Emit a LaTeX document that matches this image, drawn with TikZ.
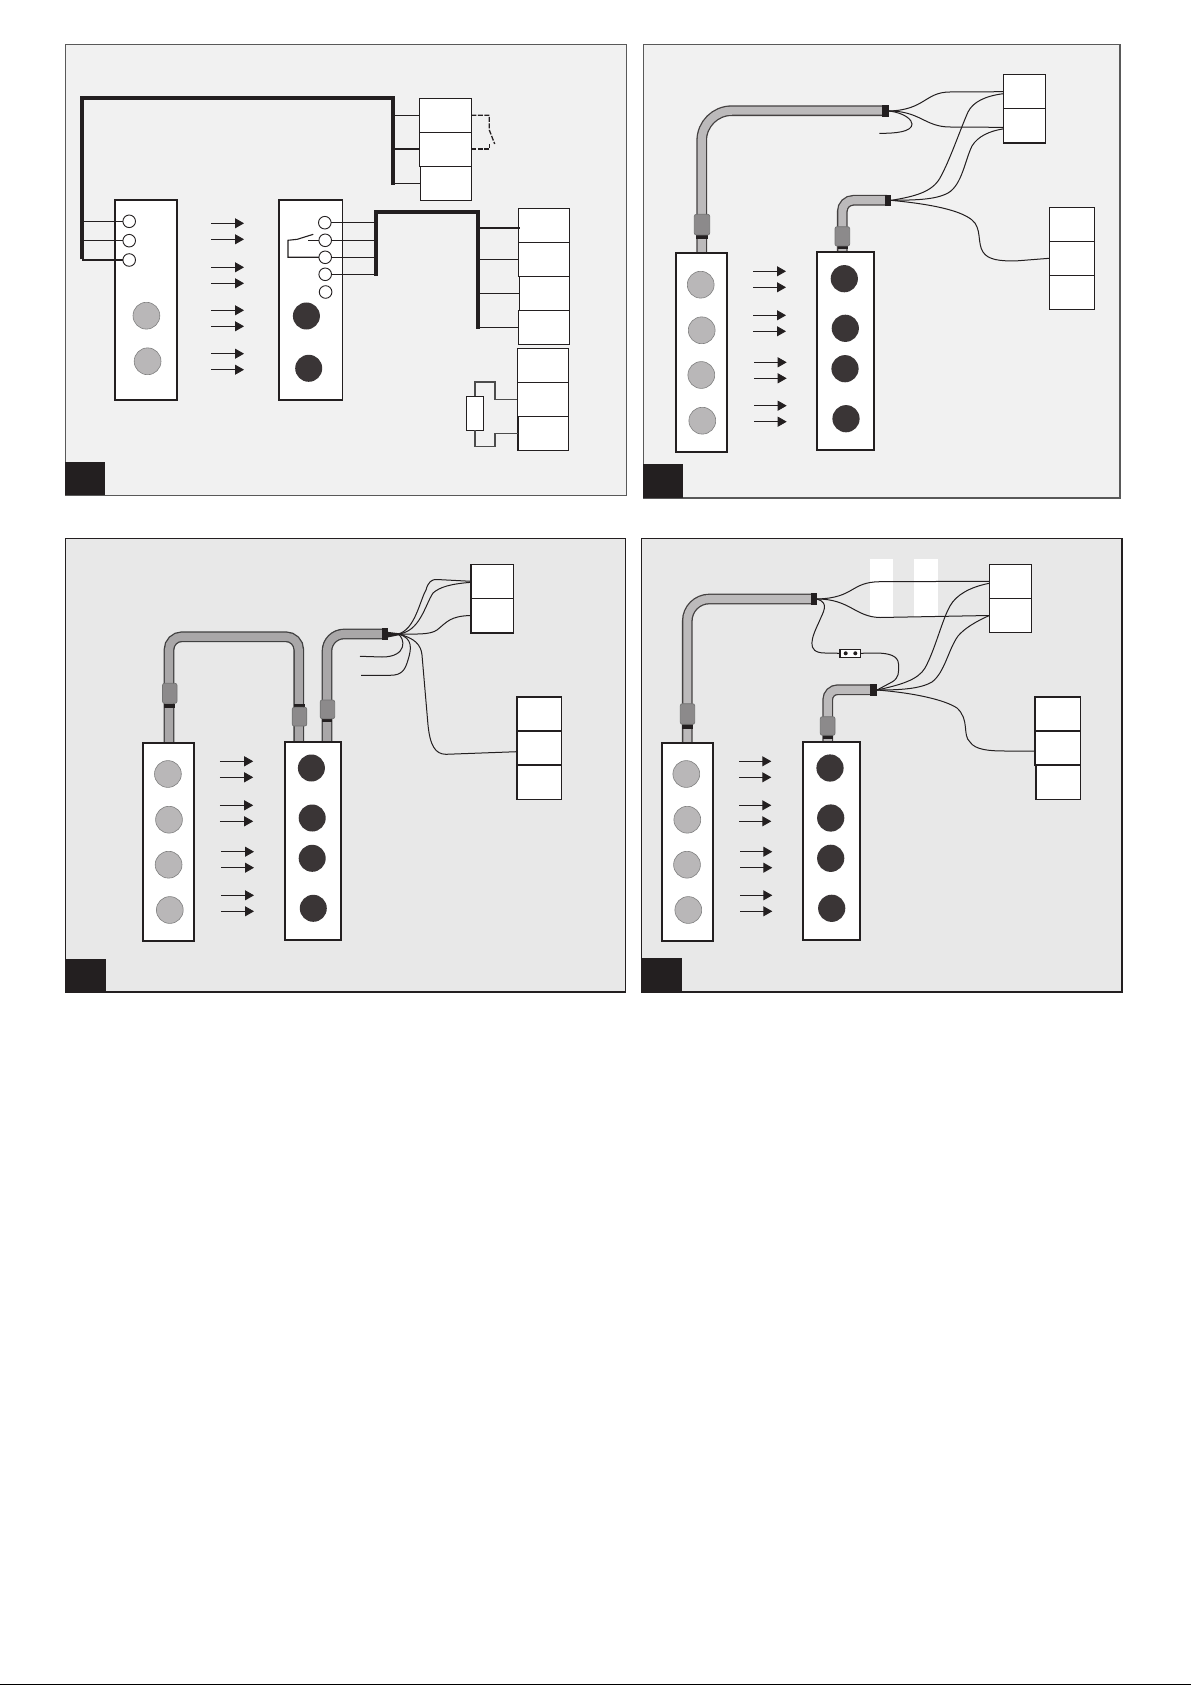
\documentclass[tikz,border=0pt]{standalone}
\usetikzlibrary{arrows.meta}
\definecolor{ink}{HTML}{231F20}
\definecolor{panelA}{HTML}{F1F1F1}
\definecolor{panelB}{HTML}{E8E8E8}
\definecolor{lamp}{HTML}{B9B7B8}
\definecolor{dlamp}{HTML}{3A3536}
\definecolor{cablefill}{HTML}{BCBABB}
\definecolor{cablefillb}{HTML}{A9A7A8}
\definecolor{collar}{HTML}{8C8A8B}
\tikzset{
  panelbox/.style={draw=black!65,line width=1.1pt,fill=panelA,rectangle,inner sep=0pt,outer sep=0pt},
  panelboxb/.style={draw=ink,line width=1.2pt,fill=panelB,rectangle,inner sep=0pt,outer sep=0pt},
  tag/.style={fill=ink,rectangle,inner sep=0pt,outer sep=0pt},
  cellthin/.style={draw=ink,line width=1.1pt,fill=white,rectangle,inner sep=0pt,outer sep=0pt},
  cellthick/.style={draw=ink,line width=1.6pt,fill=white,rectangle,inner sep=0pt,outer sep=0pt},
  devbox/.style={draw=ink,line width=1.8pt,fill=white,rectangle,inner sep=0pt,outer sep=0pt},
  smallc/.style={circle,draw=ink,line width=0.9pt,fill=white,inner sep=0pt,outer sep=0pt},
  grayc/.style={circle,draw=black!50,line width=0.6pt,fill=lamp,inner sep=0pt,outer sep=0pt},
  darkc/.style={circle,fill=dlamp,inner sep=0pt,outer sep=0pt},
  whitebar/.style={fill=white,rectangle,inner sep=0pt,outer sep=0pt},
  collarbox/.style={draw=black!55,line width=0.7pt,fill=collar,rounded corners=2pt,rectangle,inner sep=0pt,outer sep=0pt},
  arr/.style={draw=ink,line width=0.9pt,-{Triangle[length=9pt,width=10pt,fill=ink]}},
  bus/.style={draw=ink,line width=3.8pt,line join=miter},
  stub/.style={draw=ink,line width=1.1pt},
  wire/.style={draw=ink,line width=1pt},
  cable/.style={draw=ink!85,line width=1.3pt,double=cablefill,double distance=8.1pt},
  cableb/.style={draw=black!75,line width=1.3pt,double=cablefillb,double distance=8.1pt},
}
\newcommand{\cell}[6][cellthin]{\node[#1,minimum width={#5-#3},minimum height={#6-#4}] (#2) at ({(#3+#5)/2},{(#4+#6)/2}) {};}
\newcommand{\disc}[5]{\node[#1,minimum size={2*#5}] (#2) at (#3,#4) {};}
\newcommand{\arow}[3]{\draw[arr] (#1,#3) -- (#2,#3);}
\begin{document}
\begin{tikzpicture}[x=1pt,y=-1pt]
\useasboundingbox (0,0) rectangle (1191,1685);
\fill[black] (0,1684) rectangle (1191,1685);

%% ---------- Panel 1 ----------
\cell[panelbox]{aP}{65.3}{44.7}{626.7}{495.3}
\cell[tag]{aT}{65.3}{462.3}{104.7}{495.3}
\coordinate (aBus) at (82.1,98.3);
\coordinate (aBusR) at (392.9,98.3);
\coordinate (bBus) at (375.7,211.7);
\coordinate (bBusR) at (477.9,211.7);
% terminal block A
\cell{aA1}{419.7}{98.3}{471.3}{132.3}
\cell{aA2}{419.7}{132.3}{471.3}{166.3}
\cell{aA3}{420.3}{166.3}{471.3}{200.3}
\draw[bus] (82.1,259.3) -- (aBus) -- (aBusR) -- (392.9,184.7);
\draw[stub] (aBusR |- aA1.west) -- (aA1.west);
\draw[stub,line width=2pt] (aBusR |- aA2.west) -- (aA2.west);
\draw[stub] (aBusR |- aA3.west) -- (aA3.west);
% dashed contact
\coordinate (aSw) at (489.3,130);
\coordinate (aSwB) at (489.3,144);
\draw[draw=ink,line width=1.3pt,dashed,dash pattern=on 5pt off 1.5pt] (aA1.east) -| (aSw) -- (494.7,144);
\draw[draw=ink,line width=1.6pt,dashed,dash pattern=on 5pt off 1.5pt] (aA2.east) -| (aSwB);
% left device
\cell[devbox]{aL}{114.7}{200}{177}{400}
\disc{smallc}{aL1}{129.2}{221.3}{6.3}
\disc{smallc}{aL2}{129.2}{240.7}{6.3}
\disc{smallc}{aL3}{129.2}{260}{6.3}
\disc{grayc}{aL4}{146.4}{315.7}{13.4}
\disc{grayc}{aL5}{147.6}{361.3}{13.4}
\draw[stub] (aBus |- aL1.west) -- (aL1.west);
\draw[stub] (aBus |- aL2.west) -- (aL2.west);
\draw[stub] (aBus |- aL3.west) -- (aL3.west);
% arrows
\arow{211.1}{244}{223.3}\arow{211.1}{244}{239.3}
\arow{211.1}{244}{267.3}\arow{211.1}{244}{283.3}
\arow{211.1}{244}{310.3}\arow{211.1}{244}{326.3}
\arow{211.1}{244}{353.7}\arow{211.1}{244}{369.7}
% right device
\cell[devbox]{aR}{278.9}{200}{342.4}{400}
\disc{smallc}{aR1}{324.8}{222.7}{6.3}
\disc{smallc}{aR2}{325.2}{240.3}{6.3}
\disc{smallc}{aR3}{325.2}{257.3}{6.3}
\disc{smallc}{aR4}{325.2}{274.3}{6.3}
\disc{smallc}{aR5}{325.6}{292}{6.3}
\disc{darkc}{aR6}{306.4}{316}{13.5}
\disc{darkc}{aR7}{308.7}{368.3}{13.5}
\draw[stub] (aR1.east) -- (aR1.east -| bBus);
\draw[stub] (aR2.east) -- (aR2.east -| bBus);
\draw[stub] (aR3.east) -- (aR3.east -| bBus);
\draw[stub] (aR4.east) -- (aR4.east -| bBus);
\draw[bus] (375.7,276) -- (bBus) -- (bBusR) -- (477.9,329.3);
% relay contact
\coordinate (aRelayA) at (313.3,234.3);
\coordinate (aRelayB) at (288,240.3);
\draw[stub] (aRelayA) -- (297.3,239.3) -- (aRelayB) |- (aR3.west);
\draw[stub] (308.3,240.3) -- (aR2.west);
% block C
\cell{aC1}{518.4}{208.3}{569.7}{242.3}
\cell{aC2}{518.4}{242.3}{569.7}{276.3}
\cell{aC3}{519.6}{276.3}{569.7}{310.3}
\cell{aC4}{518.4}{310.3}{569.7}{344.3}
\draw[stub] (bBusR |- 0,228) -- ([yshift=-2.7pt,xshift=2pt]aC1.west);
\draw[stub] (bBusR |- aC2.west) -- ([xshift=1pt]aC2.west);
\draw[stub] (bBusR |- aC3.west) -- (aC3.west);
\draw[stub] (bBusR |- aC4.west) -- ([xshift=1pt]aC4.west);
% block D with resistor
\cell{aD1}{517.3}{348.3}{568.6}{382.3}
\cell{aD2}{517.3}{382.3}{568.6}{416.3}
\cell{aD3}{518}{416.3}{568.6}{450.3}
\cell{aRes}{466.4}{396.3}{483.6}{430.3}
\draw[draw=black!70,line width=1.3pt] (aRes.north) |- (495,382) |- (aD2.west);
\draw[draw=black!70,line width=1.3pt] (aRes.south) |- (495,446.7) |- (aD3.west);

%% ---------- Panel 2 ----------
\cell[panelbox]{bP}{643.3}{44.7}{1120}{498}
\cell[tag]{bT}{643.3}{464}{682.7}{498}
\draw[cable,rounded corners=30pt] (701.7,254) -- (701.7,110.7) -- (884,110.7);
\draw[cable,rounded corners=11pt] (842.3,252) -- (842.3,200.3) -- (887,200.3);
\cell[tag]{bE1}{882}{105}{889}{117}
\cell[tag]{bE2}{885}{195}{891}{205.7}
\cell[tag]{bB1}{696}{235}{708}{239}
\cell[tag]{bB2}{837.5}{246}{847.5}{249}
\cell[collarbox]{bC1}{694.3}{214.3}{709.7}{235}
\cell[collarbox]{bC2}{835}{226.7}{849.7}{246}
\cell[devbox]{bL}{675.7}{252.7}{727.3}{452}
\cell[devbox]{bR}{816.7}{251.7}{874.3}{450}
\disc{grayc}{bL1}{700.7}{284.7}{13.4}
\disc{grayc}{bL2}{701.7}{330.3}{13.4}
\disc{grayc}{bL3}{701.3}{375}{13.4}
\disc{grayc}{bL4}{702.3}{420.7}{13.4}
\disc{darkc}{bR1}{844.3}{278.7}{13.6}
\disc{darkc}{bR2}{845.3}{328.3}{13.6}
\disc{darkc}{bR3}{845}{368.7}{13.6}
\disc{darkc}{bR4}{846}{418.7}{13.6}
\arow{753}{786}{271.3}\arow{753}{786}{287.3}
\arow{753}{786}{315.3}\arow{753}{786}{331.3}
\arow{754}{786.7}{362.3}\arow{754}{786.7}{378.3}
\arow{754}{786.7}{405.7}\arow{754}{786.7}{421.7}
\cell[cellthick]{bA1}{1003.3}{74.7}{1045.3}{108.7}
\cell[cellthick]{bA2}{1003.3}{108.7}{1045.3}{143}
\cell{bD1}{1049.3}{207.3}{1094.3}{241.3}
\cell{bD2}{1049.3}{241.3}{1094.3}{275.3}
\cell{bD3}{1049.3}{275.3}{1094.3}{309.3}
\coordinate (bFree) at (879.3,133.3);
\draw[wire] (bE1.east) .. controls (925,110) and (925,92) .. (950,92) -- (bA1.west);
\draw[wire] (bE1.east) .. controls (920,111) and (925,127) .. (950,127) -- ([yshift=-1.5pt]bA2.west);
\draw[wire] (bE1.east) .. controls (905,113) and (912,120) .. (912,124) .. controls (912,132) and (895,133.5) .. (bFree);
\draw[wire] (bE2.east) .. controls (915,196.5) and (932,192) .. (940,178) .. controls (950,160) and (960,130) .. (968,112) .. controls (973,102) and (985,96) .. ([yshift=-2pt]bA1.west);
\draw[wire] (bE2.east) .. controls (915,200) and (935,200) .. (948,193) .. controls (962,185) and (965,160) .. (972,146) .. controls (978,136) and (990,131) .. ([yshift=-3pt]bA2.west);
\draw[wire] (bE2.east) .. controls (930,204) and (960,210) .. (972,220) .. controls (982,228) and (977,243) .. (983,252) .. controls (988,260) and (1000,261) .. (1015,261) -- (bD2.west);

%% ---------- Panel 3 ----------
\cell[panelboxb]{cP}{65.3}{538.7}{625.6}{992}
\cell[tag]{cT}{65.3}{959}{105.9}{992}
\draw[cableb,rounded corners=13pt] (169,743) -- (169,636.7) -- (298.8,636.7) -- (298.8,743);
\draw[cableb,rounded corners=17pt] (327,743) -- (327,634) -- (383,634);
\cell[tag]{cE}{382.2}{628.3}{388}{639.7}
\cell[tag]{cB1}{164}{704}{175}{707.7}
\cell[tag]{cB2}{294}{704}{305}{707}
\cell[tag]{cB3}{322}{718.7}{332}{722}
\cell[collarbox]{cC1}{162.5}{683.3}{177}{703.3}
\cell[collarbox]{cC2}{292.2}{707.3}{306.8}{726}
\cell[collarbox]{cC3}{320.2}{700}{334.7}{718.7}
\cell[devbox]{cL}{143}{742.7}{194.3}{941.3}
\cell[devbox]{cR}{285}{741.7}{341.2}{940.3}
\disc{grayc}{cL1}{167.9}{774}{13.4}
\disc{grayc}{cL2}{169}{819.7}{13.4}
\disc{grayc}{cL3}{168.6}{864.7}{13.4}
\disc{grayc}{cL4}{169.8}{910}{13.4}
\disc{darkc}{cR1}{311.4}{768}{13.5}
\disc{darkc}{cR2}{312.2}{818}{13.5}
\disc{darkc}{cR3}{312.2}{858.3}{13.5}
\disc{darkc}{cR4}{313.3}{908.3}{13.5}
\arow{219.9}{253.2}{761.3}\arow{219.9}{253.2}{777.3}
\arow{219.9}{253.2}{805.3}\arow{219.9}{253.2}{821.3}
\arow{221}{254}{851.7}\arow{221}{254}{867.7}
\arow{221}{254}{895.3}\arow{221}{254}{911.3}
\cell[cellthick]{cA1}{471}{564.3}{513.4}{598.3}
\cell[cellthick]{cA2}{471}{598.3}{513.4}{632.7}
\cell[cellthick]{cD1}{516.9}{696.7}{561.3}{730.7}
\cell[cellthick]{cD2}{516.9}{730.7}{561.3}{764.7}
\cell[cellthick]{cD3}{516.9}{764.7}{561.3}{799.3}
\coordinate (cFan) at (398,634);
\coordinate (cFree1) at (360,656.3);
\coordinate (cFree2) at (361,675.3);
\fill[ink] (cE.north east) ++(0,3.6) -- (405,634) -- (388,637.4) -- cycle;
\draw[wire] (cFan) .. controls (415,630) and (420,600) .. (426,590) .. controls (428,582) and (432,579) .. (437,579.5) -- (cA1.west);
\draw[wire] (cFan) .. controls (420,632) and (425,605) .. (433,593) .. controls (440,587) and (450,584) .. ([yshift=-1pt]cA1.west);
\draw[wire] (cFan) .. controls (415,634) and (430,635) .. (437,630) .. controls (447,622) and (450,616) .. (cA2.west);
\draw[wire] (cFan) .. controls (405,638) and (408,657) .. (382,657) -- (cFree1);
\draw[wire] (cFan) .. controls (414,638) and (411,650) .. (408,660) .. controls (405,670) and (402,675.3) .. (390,675.3) -- (cFree2);
\draw[wire] (cFan) .. controls (415,638) and (421,645) .. (422,655) -- (428,725) .. controls (430,745) and (435,754.3) .. (446,754.3) -- ([yshift=-4pt]cD2.west);

%% ---------- Panel 4 ----------
\cell[panelboxb]{dP}{641.7}{538.7}{1122.3}{992}
\draw[draw=ink,line width=1.8pt] (dP.north east) -- (dP.south east);
\cell[tag]{dT}{641.7}{958.3}{682}{992}
\cell[whitebar]{dW1}{870}{559}{893}{616.7}
\cell[whitebar]{dW2}{914}{559}{938}{616.7}
\draw[cable,rounded corners=22pt] (687.3,744) -- (687.3,599) -- (812,599);
\draw[cable,rounded corners=10pt] (827.7,743) -- (827.7,689.7) -- (872,689.7);
\cell[tag]{dE1}{811}{593}{817}{605}
\cell[tag]{dE2}{870}{684}{877}{696}
\cell[tag]{dB1}{682}{724.3}{693}{728.7}
\cell[tag]{dB2}{822.7}{735.3}{833}{739}
\cell[collarbox]{dC1}{680.3}{703.7}{694.7}{724.3}
\cell[collarbox]{dC2}{820.3}{716.7}{835}{735.3}
\cell[devbox]{dL}{661.7}{742.7}{713.3}{941.3}
\cell[devbox]{dR}{802.7}{741.7}{860.3}{940.3}
\disc{grayc}{dL1}{686.3}{774}{13.4}
\disc{grayc}{dL2}{687.3}{819.7}{13.4}
\disc{grayc}{dL3}{687}{864.7}{13.4}
\disc{grayc}{dL4}{688.3}{910}{13.4}
\disc{darkc}{dR1}{830}{768}{13.6}
\disc{darkc}{dR2}{830.7}{818}{13.6}
\disc{darkc}{dR3}{830.7}{858.3}{13.6}
\disc{darkc}{dR4}{831.7}{908.3}{13.6}
\arow{739}{771.3}{761.3}\arow{739}{771.3}{777.3}
\arow{739}{771.3}{805.3}\arow{739}{771.3}{821.3}
\arow{740}{772.3}{851.7}\arow{740}{772.3}{867.7}
\arow{740}{772.3}{895.3}\arow{740}{772.3}{911.3}
\cell{dA1}{989.3}{564.3}{1031.3}{598.3}
\cell{dA2}{989.3}{598.3}{1031.3}{632.7}
\cell[cellthick]{dD3}{1035.7}{765}{1080.3}{799.3}
\cell[cellthick]{dD1}{1034.7}{696.7}{1080.3}{731}
\cell[cellthick]{dD2}{1034.7}{731}{1080.3}{765}
\cell{dFuse}{840}{649.3}{860.7}{657.3}
\fill[ink] (845.7,653.3) circle (2pt) (855.3,653.3) circle (2pt);
\draw[wire] (dE1.east) .. controls (855,598) and (850,582) .. (880,581.7) -- (dA1.west);
\draw[wire] (dE1.east) .. controls (850,599) and (855,617) .. (880,617.5) -- (dA2.west);
\draw[wire] (dE1.east) .. controls (830,603) and (823,612) .. (819,622) .. controls (812,637) and (805,653) .. (825,653) -- (dFuse.west);
\draw[wire] (dFuse.east) -- (875,653) .. controls (890,653) and (898,656) .. (898.5,664) .. controls (899,672) and (899,678) .. (892,682) -- (dE2.east);
\draw[wire] (dE2.east) .. controls (900,685) and (918,680) .. (925,668) .. controls (935,650) and (942,620) .. (950,606) .. controls (956,595) and (970,587) .. ([yshift=-2pt]dA1.west);
\draw[wire] (dE2.east) .. controls (900,690) and (920,689) .. (932,682) .. controls (945,672) and (948,650) .. (958,636) .. controls (965,628) and (975,622) .. (dA2.west);
\draw[wire] (dE2.east) .. controls (915,693) and (945,700) .. (957,708) .. controls (970,720) and (962,735) .. (970,742) .. controls (975,750) and (990,751) .. (1005,751) -- ([yshift=-3pt]dD2.west);
\end{tikzpicture}
\end{document}
